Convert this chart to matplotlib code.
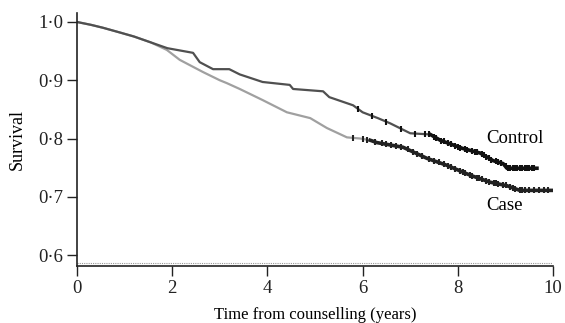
import matplotlib
matplotlib.use("Agg")
import matplotlib.pyplot as plt
import numpy as np

# Kaplan-Meier style curves (time in years, survival)
control_t = [0.0, 0.3, 0.55, 0.9, 1.2, 1.55, 1.9, 2.44, 2.58, 2.86, 3.2, 3.42, 3.9,
             4.47, 4.54, 5.17, 5.3, 5.8, 6.0, 6.32, 6.58, 7.0, 7.42, 7.63, 8.1, 8.47,
             8.74, 8.95, 9.03, 9.66]
control_s = [1.0, 0.995, 0.99, 0.982, 0.975, 0.965, 0.955, 0.947, 0.931, 0.919, 0.919,
             0.910, 0.897, 0.892, 0.885, 0.881, 0.871, 0.857, 0.845, 0.835, 0.826,
             0.809, 0.807, 0.797, 0.783, 0.775, 0.762, 0.757, 0.749, 0.749]

case_t = [0.0, 0.3, 0.55, 0.9, 1.2, 1.55, 1.89, 2.16, 2.65, 3.0, 3.15, 3.42, 3.9,
          4.41, 4.9, 5.25, 5.67, 5.95, 6.16, 6.3, 6.85, 7.35, 7.77, 8.26, 8.68,
          9.03, 9.3, 10.0]
case_s = [1.0, 0.995, 0.99, 0.982, 0.975, 0.965, 0.952, 0.935, 0.914, 0.900, 0.895,
          0.885, 0.866, 0.845, 0.835, 0.818, 0.802, 0.800, 0.797, 0.793, 0.785,
          0.766, 0.754, 0.737, 0.725, 0.719, 0.711, 0.711]

# censoring times
control_cens = [5.9, 6.2, 6.5, 6.8, 7.1, 7.3, 7.4, 7.5, 7.55, 7.65, 7.7, 7.8, 7.85,
                7.95, 8.0, 8.05, 8.15, 8.2, 8.3, 8.35, 8.4, 8.5, 8.55, 8.6, 8.65,
                8.7, 8.8, 8.85, 8.9, 9.0, 9.05, 9.1, 9.15, 9.2, 9.25, 9.3, 9.35,
                9.4, 9.45, 9.5, 9.55, 9.6]
case_cens = [5.8, 6.0, 6.1, 6.25, 6.4, 6.5, 6.6, 6.7, 6.8, 6.95, 7.05, 7.15, 7.25,
             7.4, 7.5, 7.6, 7.7, 7.8, 7.85, 7.95, 8.05, 8.1, 8.15, 8.25, 8.3, 8.4,
             8.45, 8.5, 8.6, 8.65, 8.75, 8.8, 8.85, 8.95, 9.0, 9.1, 9.15, 9.2, 9.3,
             9.35, 9.4, 9.5, 9.6, 9.7, 9.8, 9.9]

x_ticks = [0, 2, 4, 6, 8, 10]
y_ticks = [0.6, 0.7, 0.8, 0.9, 1.0]
y_labels = ["0·6", "0·7", "0·8", "0·9", "1·0"]

plt.rcParams['font.family'] = ['Liberation Serif', 'DejaVu Serif']

fig = plt.figure(figsize=(5.65, 3.23), dpi=100)
ax = fig.add_axes([0.136, 0.176, 0.843, 0.784])

def surv_at(ts, ss, t):
    return np.interp(t, ts, ss)

ax.plot(case_t, case_s, color='#a0a0a0', lw=1.6)
ax.plot(control_t, control_s, color='#505050', lw=1.6)
ax.plot(control_cens, surv_at(control_t, control_s, control_cens), ls='none',
        marker='|', ms=5, mew=1.5, color='#111111')
ax.plot(case_cens, surv_at(case_t, case_s, case_cens), ls='none',
        marker='|', ms=5, mew=1.5, color='#222222')
# thicken dense late part (many overlapping events)
ct = np.array(control_t); cs = np.array(control_s)
kt = np.array(case_t); ks = np.array(case_s)
ax.plot(ct[ct >= 7.4], cs[ct >= 7.4], color='#111111', lw=2.6)
ax.plot(kt[kt >= 6.1], ks[kt >= 6.1], color='#222222', lw=2.6)

ax.axhline(0.586, color='#999999', lw=0.8, ls=(0, (1, 1)))

ax.text(8.6, 0.800, "Control", fontsize=13.5, va='center', ha='left')
ax.text(8.6, 0.685, "Case", fontsize=13.5, va='center', ha='left')

ax.set_xlim(0, 10)
ax.set_ylim(0.581, 1.0155)
ax.set_xticks(x_ticks)
ax.set_yticks(y_ticks)
ax.set_yticklabels(y_labels)
ax.tick_params(direction='out', length=7, width=1, labelsize=13.5, colors='#222222',
               pad=3)
for s in ['top', 'right']:
    ax.spines[s].set_visible(False)
for s in ['left', 'bottom']:
    ax.spines[s].set_linewidth(1.2)
    ax.spines[s].set_color('#222222')
ax.set_xlabel("Time from counselling (years)", fontsize=12, labelpad=7)
ax.set_ylabel("Survival", fontsize=13, labelpad=9)

fig.savefig("out.png", dpi=100)
